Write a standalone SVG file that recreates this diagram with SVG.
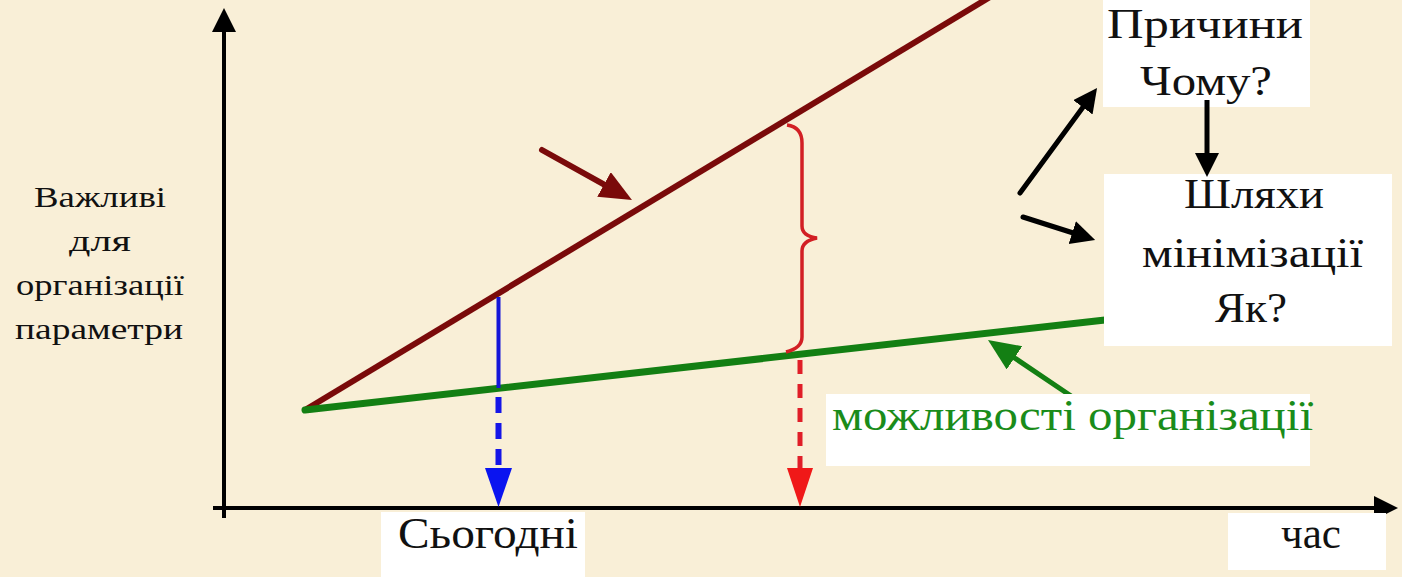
<svg xmlns="http://www.w3.org/2000/svg" width="1402" height="577" viewBox="0 0 1402 577">
  <style>
    .t { font-family: "Liberation Serif", "DejaVu Serif", serif; fill: #111; }
    .box { fill: #ffffff; }
    .ax { stroke: #000; stroke-width: 4; fill: none; }
  </style>
  <defs>
    <marker id="ah-black" markerUnits="userSpaceOnUse" markerWidth="28" markerHeight="28" refX="6" refY="12" orient="auto">
      <path d="M0,0 L24,12 L0,24 z" fill="#000"/>
    </marker>
    <marker id="ah-brown" markerUnits="userSpaceOnUse" markerWidth="34" markerHeight="30" refX="8" refY="14" orient="auto">
      <path d="M0,0 L32,14 L0,28 z" fill="#7A0A0A"/>
    </marker>
    <marker id="ah-green" markerUnits="userSpaceOnUse" markerWidth="34" markerHeight="30" refX="8" refY="14" orient="auto">
      <path d="M0,0 L32,14 L0,28 z" fill="#137F13"/>
    </marker>
  </defs>

  <rect x="0" y="0" width="1402" height="577" fill="#F9EFD7"/>

  <g id="connectors">
    <!-- axes -->
    <line class="ax" x1="224" y1="518" x2="224" y2="26" marker-end="url(#ah-black)"/>
    <line class="ax" x1="213" y1="508" x2="1380" y2="508" marker-end="url(#ah-black)"/>
    <!-- trend lines -->
    <line x1="305" y1="410" x2="990" y2="-3" stroke="#7A0A0A" stroke-width="6"/>
    <line x1="305" y1="410" x2="1105" y2="320" stroke="#137F13" stroke-width="7" stroke-linecap="round"/>
    <!-- blue today marker -->
    <line x1="498.5" y1="297" x2="498.5" y2="388" stroke="#1515D8" stroke-width="4"/>
    <line x1="498.5" y1="397" x2="498.5" y2="470" stroke="#1515E8" stroke-width="6" stroke-dasharray="16 10"/>
    <path d="M485,468 L512,468 L498.5,507 z" fill="#0A14F0"/>
    <!-- red future marker -->
    <line x1="800" y1="360" x2="800" y2="470" stroke="#E01E28" stroke-width="5" stroke-dasharray="14 10"/>
    <path d="M787,468 L813,468 L800,507 z" fill="#F01818"/>
    <!-- brace -->
    <path d="M787,125 Q802,127 802,143 L802,226 Q802,236 817,238 Q802,241 802,251 L802,337 Q802,348 786,352" fill="none" stroke="#D21F24" stroke-width="3.5"/>
    <!-- pointer arrows -->
    <line x1="542" y1="150" x2="611" y2="188.3" stroke="#7A0A0A" stroke-width="6" stroke-linecap="round" marker-end="url(#ah-brown)"/>
    <line x1="1077" y1="400" x2="1007.9" y2="353.4" stroke="#137F13" stroke-width="5" stroke-linecap="round" marker-end="url(#ah-green)"/>
    <line x1="1020" y1="193" x2="1086.4" y2="102.5" stroke="#000" stroke-width="5" stroke-linecap="round" marker-end="url(#ah-black)"/>
    <line x1="1023" y1="217" x2="1078" y2="234.5" stroke="#000" stroke-width="5" stroke-linecap="round" marker-end="url(#ah-black)"/>
  </g>

  <g id="y-label">
    <text class="t" font-size="30" text-anchor="middle" x="100" y="207" textLength="132" lengthAdjust="spacingAndGlyphs">Важливі</text>
    <text class="t" font-size="30" text-anchor="middle" x="100" y="251" textLength="62" lengthAdjust="spacingAndGlyphs">для</text>
    <text class="t" font-size="30" text-anchor="middle" x="100" y="295" textLength="168" lengthAdjust="spacingAndGlyphs">організації</text>
    <text class="t" font-size="30" text-anchor="middle" x="99" y="339" textLength="168" lengthAdjust="spacingAndGlyphs">параметри</text>
  </g>

  <g id="causes">
    <rect class="box" x="1103" y="0" width="207" height="107"/>
    <text class="t" font-size="42" x="1107" y="38" textLength="196" lengthAdjust="spacingAndGlyphs">Причини</text>
    <text class="t" font-size="42" x="1140" y="95" textLength="132" lengthAdjust="spacingAndGlyphs">Чому?</text>
  </g>

  <g id="ways">
    <rect class="box" x="1104" y="174" width="288" height="172"/>
    <text class="t" font-size="42" x="1184" y="208" textLength="140" lengthAdjust="spacingAndGlyphs">Шляхи</text>
    <text class="t" font-size="42" x="1142" y="267" textLength="221" lengthAdjust="spacingAndGlyphs">мінімізації</text>
    <text class="t" font-size="42" x="1215" y="322" textLength="72" lengthAdjust="spacingAndGlyphs">Як?</text>
  </g>

  <g id="capabilities">
    <rect class="box" x="826" y="394" width="484" height="72"/>
    <text class="t" font-size="44" x="832" y="430" textLength="481" lengthAdjust="spacingAndGlyphs" style="fill:#1A8C1A">можливості організації</text>
  </g>

  <g id="today">
    <rect class="box" x="381" y="512" width="204" height="65"/>
    <text class="t" font-size="44" x="398" y="548" textLength="180" lengthAdjust="spacingAndGlyphs">Сьогодні</text>
  </g>

  <g id="time">
    <rect class="box" x="1228" y="513" width="158" height="57"/>
    <text class="t" font-size="44" x="1281" y="548" textLength="60" lengthAdjust="spacingAndGlyphs">час</text>
  </g>

  <g id="connectors-top">
    <line x1="1207" y1="100" x2="1207" y2="159" stroke="#000" stroke-width="5" marker-end="url(#ah-black)"/>
  </g>
</svg>
